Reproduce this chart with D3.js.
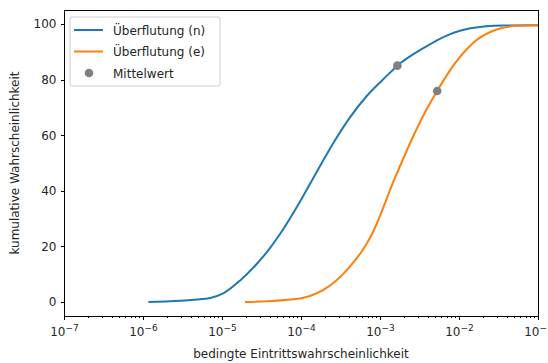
<!DOCTYPE html>
<html>
<head>
<meta charset="utf-8">
<title>Überflutung</title>
<script src="https://d3js.org/d3.v7.min.js"></script>
<style>
 body { margin: 0; background: #fff; }
 svg { display: block; }
 text { font-family: "DejaVu Sans", sans-serif; fill: #262626; }
 .tick text { font-size: 12px; }
 .axis path { stroke: #000; stroke-width: 1; fill: none; shape-rendering: crispEdges; }
 .axis line { stroke: #000; shape-rendering: crispEdges; }
</style>
</head>
<body>
<div id="chart"></div>
<script>
// Überflutung (n)
var nX = [1.17e-6, 6.1e-6, 7.1e-6, 1.05e-5, 1.7e-5, 2.75e-5, 3.89e-5, 5.37e-5, 9.7e-5, 1.58e-4,
          2.57e-4, 4.17e-4, 6.76e-4, 1.1e-3, 1.66e-3, 3.5e-3, 7.0e-3, 1.4e-2, 3.6e-2, 1.0e-1];
var nY = [0.0, 1.2, 1.5, 3.2, 7.8, 13.7, 18.8, 24.3, 36.1, 46.8,
          57.2, 66.4, 74.0, 80.1, 85.0, 91.2, 95.8, 98.4, 99.4, 99.5];
// Überflutung (e)
var eX = [1.95e-5, 9.7e-5, 1.3e-4, 1.9e-4, 3.8e-4, 6.78e-4, 8.22e-4, 1.47e-3, 2.4e-3,
          3.89e-3, 5.31e-3, 7.33e-3, 9.33e-3, 1.26e-2, 1.67e-2, 3.0e-2, 5.37e-2, 1.0e-1];
var eY = [0.0, 1.3, 2.2, 4.3, 11.5, 21.0, 25.4, 43.1, 57.1,
          69.3, 76.0, 82.4, 86.6, 91.0, 94.2, 98.0, 99.3, 99.5];
// Mittelwert
var meanX = [1.66e-3, 5.3e-3];
var meanY = [85.0, 75.9];

var yTicks = [0, 20, 40, 60, 80, 100];
var xTicks = [1e-7, 1e-6, 1e-5, 1e-4, 1e-3, 1e-2, 1e-1];

var W = 548, H = 363;
var margin = {top: 10, right: 10, bottom: 47, left: 64};
var width = 538 - margin.left;
var height = 316 - margin.top;

var svg = d3.select("#chart").append("svg")
  .attr("width", W).attr("height", H);
var g = svg.append("g")
  .attr("transform", "translate(" + margin.left + "," + margin.top + ")");

var x = d3.scaleLog().domain([1e-7, 1e-1]).range([0, width]);
var y = d3.scaleLinear().domain([-5, 105]).range([height, 0]);

// minor ticks
var minor = [];
for (var e = -7; e < -1; e++) {
  for (var m = 2; m <= 9; m++) minor.push(m * Math.pow(10, e));
}
g.append("g").attr("class", "axis")
  .attr("transform", "translate(0," + height + ")")
  .call(d3.axisBottom(x).tickValues(minor).tickSize(2).tickFormat(""))
  .select(".domain").remove();

var xAxis = g.append("g").attr("class", "axis")
  .attr("transform", "translate(0," + height + ")")
  .call(d3.axisBottom(x).tickValues(xTicks).tickSize(3.5).tickPadding(5).tickFormat(""));
xAxis.select(".domain").remove();
xAxis.selectAll(".tick").each(function(d) {
  var ex = Math.round(Math.log10(d));
  var t = d3.select(this).append("text")
    .attr("y", 20).attr("text-anchor", "middle").style("font-size", "12px");
  t.append("tspan").text("10");
  t.append("tspan").attr("dy", -5).style("font-size", "9px").text("\u2212" + Math.abs(ex));
});

var yAxis = g.append("g").attr("class", "axis")
  .call(d3.axisLeft(y).tickValues(yTicks).tickSize(3.5).tickPadding(4));
yAxis.select(".domain").remove();
yAxis.selectAll(".tick text").style("font-size", "12px").attr("fill", "#262626");

// frame
g.append("rect")
  .attr("x", 0.5).attr("y", 0.5).attr("width", width).attr("height", height)
  .attr("fill", "none").attr("stroke", "#000").attr("stroke-width", 1)
  .style("shape-rendering", "crispEdges");

var line = d3.line()
  .x(function(d) { return x(d[0]); })
  .y(function(d) { return y(d[1]); })
  .curve(d3.curveMonotoneX);

var series = [
  {name: "Überflutung (n)", xs: nX, ys: nY, color: "#1f77b4"},
  {name: "Überflutung (e)", xs: eX, ys: eY, color: "#ff7f0e"}
];

series.forEach(function(s) {
  g.append("path")
    .datum(d3.zip(s.xs, s.ys))
    .attr("fill", "none")
    .attr("stroke", s.color)
    .attr("stroke-width", 2)
    .attr("stroke-linejoin", "round")
    .attr("d", line);
});

g.selectAll(".mean")
  .data(d3.zip(meanX, meanY))
  .enter().append("circle")
  .attr("class", "mean")
  .attr("cx", function(d) { return x(d[0]); })
  .attr("cy", function(d) { return y(d[1]); })
  .attr("r", 4.3)
  .attr("fill", "#808080");

// axis labels
svg.append("text")
  .attr("x", margin.left + width / 2).attr("y", 358)
  .attr("text-anchor", "middle").style("font-size", "12px")
  .text("bedingte Eintrittswahrscheinlichkeit");
svg.append("text")
  .attr("transform", "translate(19," + (margin.top + height / 2) + ") rotate(-90)")
  .attr("text-anchor", "middle").style("font-size", "12px")
  .text("kumulative Wahrscheinlichkeit");

// legend
var lg = svg.append("g").attr("transform", "translate(70,17)");
lg.append("rect")
  .attr("width", 150).attr("height", 69).attr("rx", 2)
  .attr("fill", "#fff").attr("fill-opacity", 0.8)
  .attr("stroke", "#ccc").attr("stroke-width", 1);
series.forEach(function(s, i) {
  var yy = 13 + i * 21.5;
  lg.append("line")
    .attr("x1", 4).attr("x2", 33).attr("y1", yy).attr("y2", yy)
    .attr("stroke", s.color).attr("stroke-width", 2);
  lg.append("text").attr("x", 43).attr("y", yy + 4.5)
    .style("font-size", "12px").text(s.name);
});
lg.append("circle").attr("cx", 19).attr("cy", 56).attr("r", 4.3).attr("fill", "#808080");
lg.append("text").attr("x", 43).attr("y", 60.5).style("font-size", "12px").text("Mittelwert");
</script>
</body>
</html>
